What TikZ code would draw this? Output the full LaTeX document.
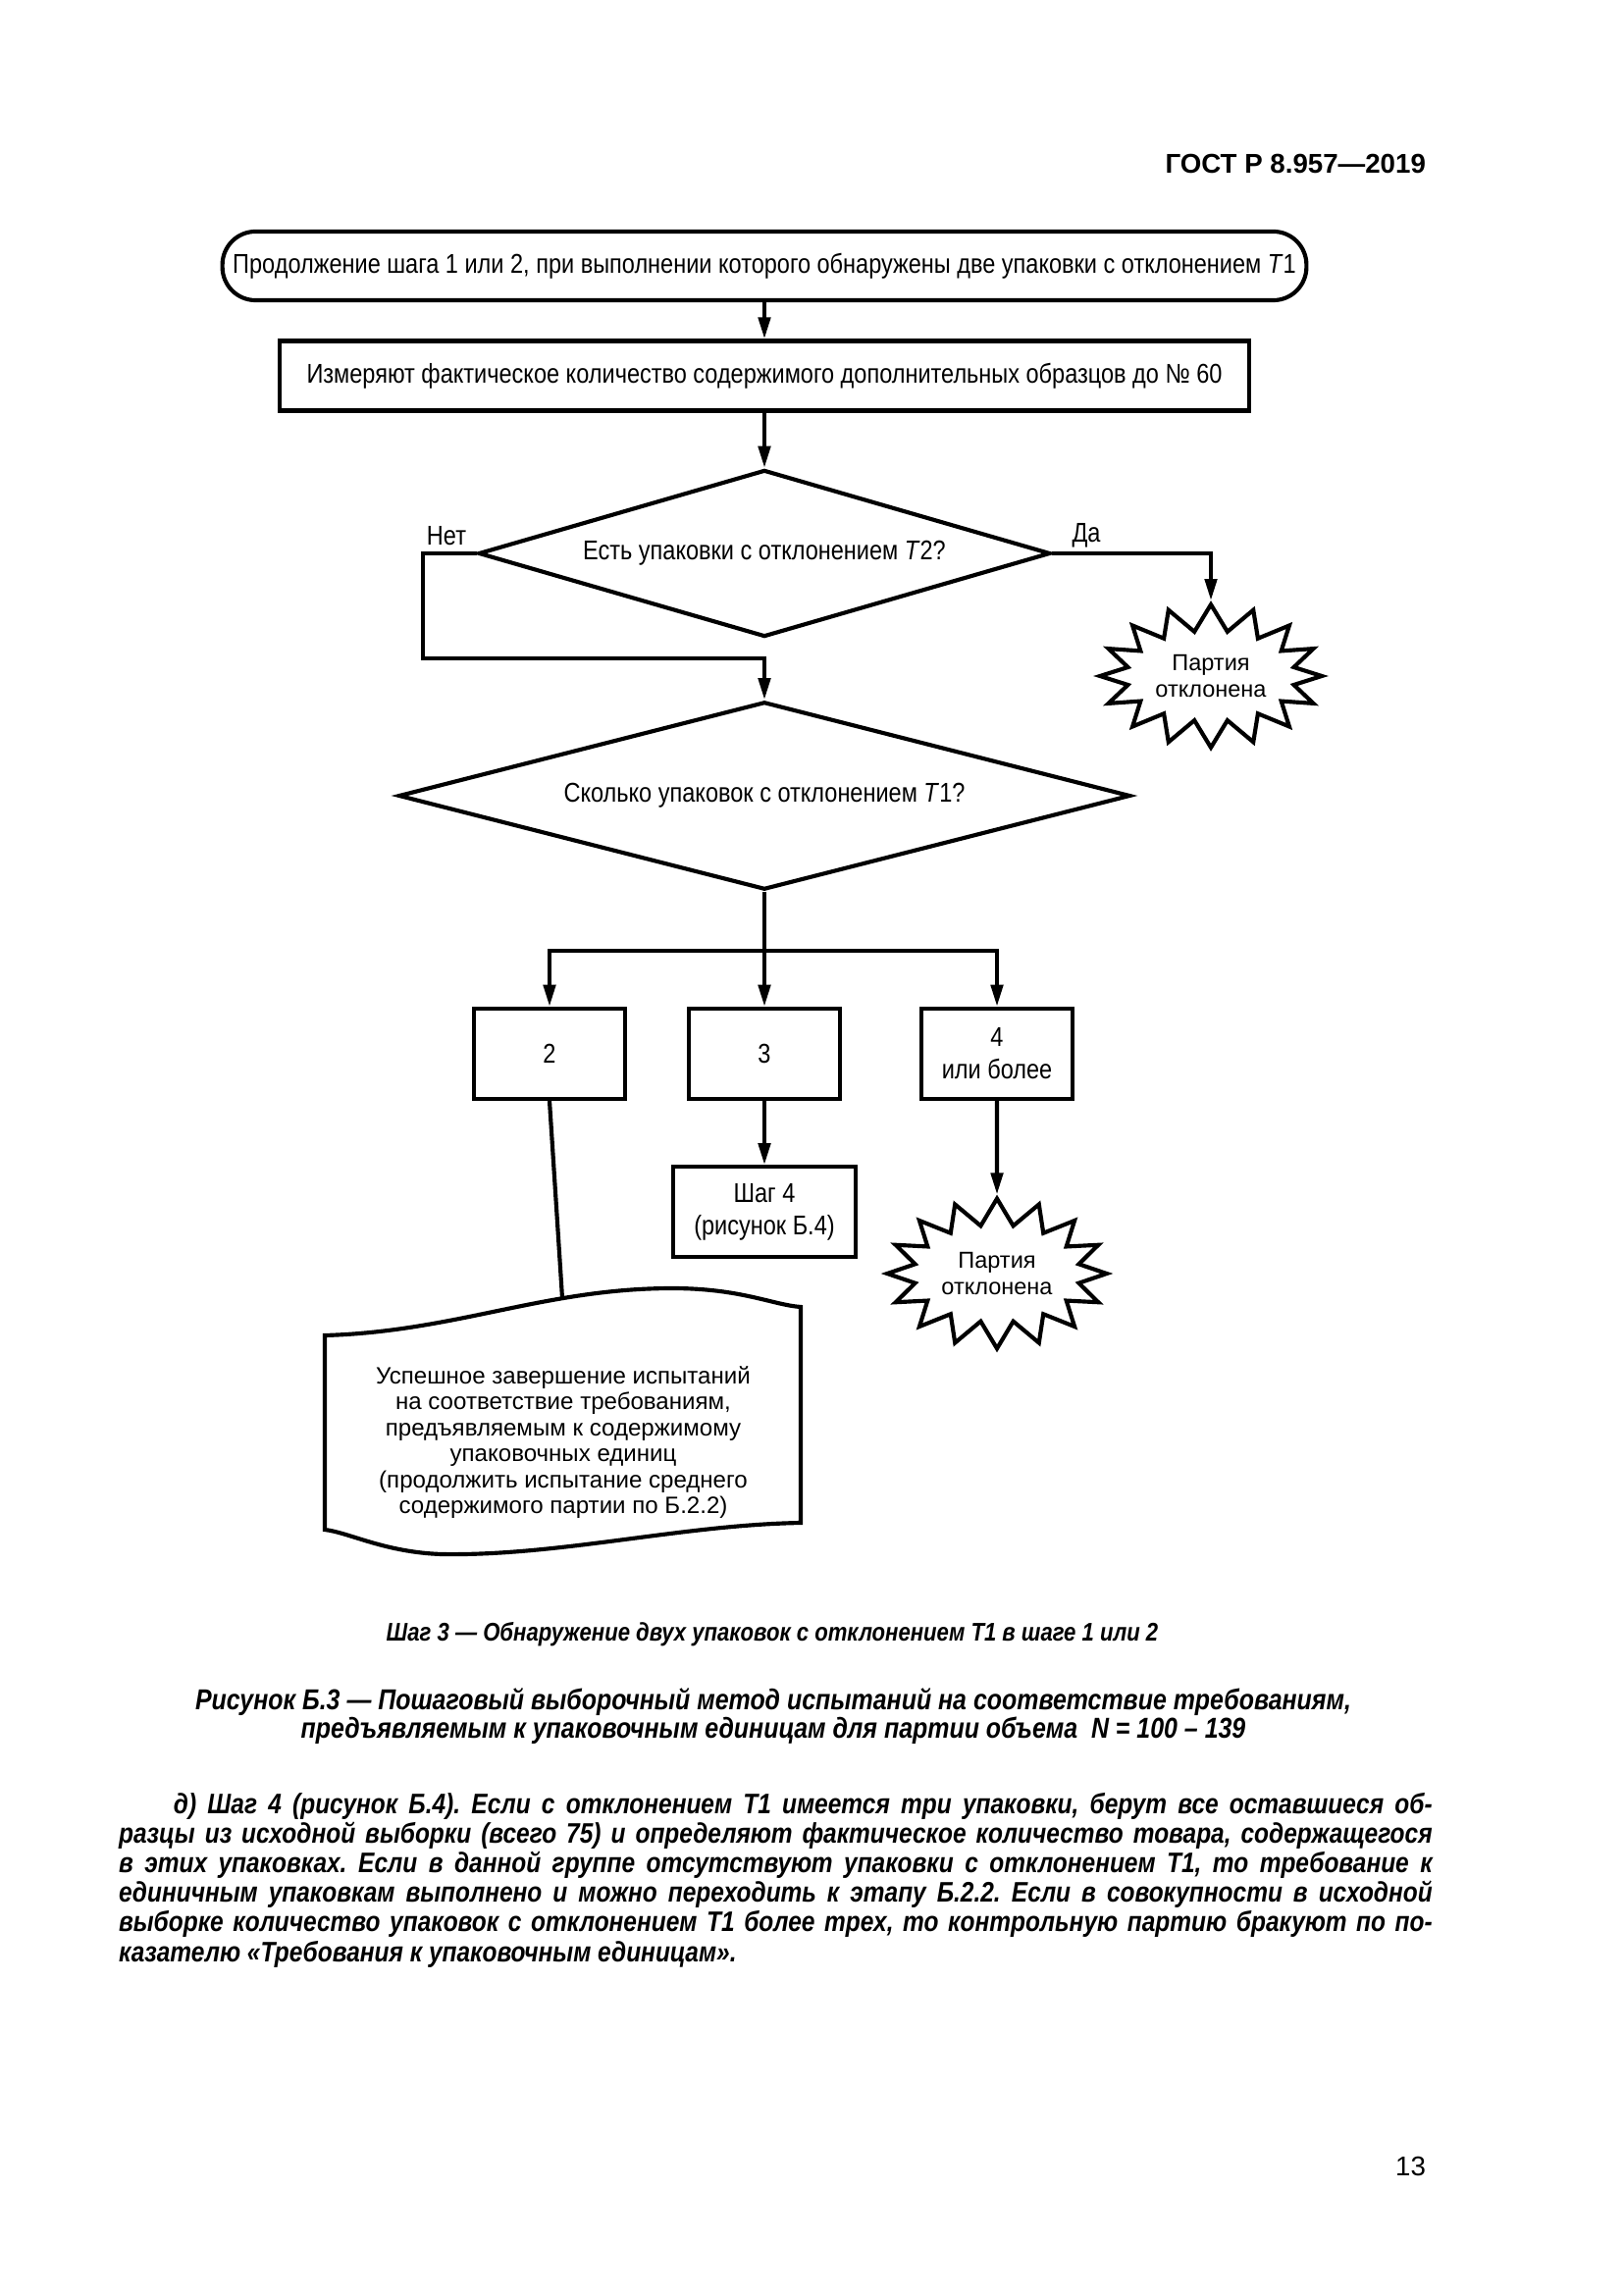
\documentclass[tikz,border=0pt]{standalone}
\usepackage{fontspec}
\setmainfont{Liberation Sans}
\newfontfamily\narrowfont{Liberation Sans}[FakeStretch=0.85]
\usetikzlibrary{arrows.meta,positioning,calc,shapes.geometric,shapes.symbols}
\frenchspacing

\begin{document}
\begin{tikzpicture}[x=0.127mm,y=-0.127mm,>={Triangle[length=8pt,width=4.4pt]},line width=1.5pt,
  every node/.style={inner sep=0pt},
  lbl/.style={font=\narrowfont\fontsize{10}{12}\selectfont,align=center},
  box/.style={lbl,draw,rectangle},
  ask/.style={lbl,draw,diamond},
  burst/.style={draw,starburst,starburst points=16,starburst point height=3.4mm,random starburst=0,align=center,font=\fontsize{8.5}{9.6}\selectfont},
  figtext/.style={font=\narrowfont\bfseries\itshape\fontsize{10.6}{10.5}\selectfont,align=center}]

% page
\fill[white] (0,0) rectangle (1654,2339);
\useasboundingbox (0,0) rectangle (1654,2339);

\node[anchor=east,font=\bfseries\fontsize{10}{12}\selectfont] (gost) at (1455,167) {ГОСТ Р 8.957—2019};

% Flowchart
\node[box,rounded corners=4.3mm,minimum width=140.3mm,minimum height=8.9mm] (start) at (779,271) {Продолжение шага 1 или 2, при выполнении которого обнаружены две упаковки с отклонением \textit{T}1};
\node[box,minimum width=125.5mm,minimum height=9mm] (measure) at (779,383) {Измеряют фактическое количество содержимого дополнительных образцов до № 60};
\node[ask,shape aspect=3.4,minimum width=74mm,minimum height=21.6mm] (askT2) at (779,564) {Есть упаковки с отклонением \textit{T}2?};
\node[burst,minimum width=28.7mm,minimum height=18.5mm] (rej1) at (1234,689) {Партия\\отклонена};
\node[ask,shape aspect=3.9,minimum width=94.7mm,minimum height=24.3mm] (howT1) at (779,811) {Сколько упаковок с отклонением \textit{T}1?};

\node[lbl] (no) at (455,546) {Нет};
\node[lbl] (yes) at (1107,546) {Да};

% Counts
\node[box,minimum width=19.6mm,minimum height=11.7mm] (cnt2) at (560,1074) {2};
\node[box,minimum width=19.6mm,minimum height=11.7mm] (cnt3) at (779,1074) {3};
\node[box,minimum width=19.6mm,minimum height=11.7mm] (cnt4) at (1016,1074) {4\\или более};
\node[box,minimum width=23.7mm,minimum height=11.6mm] (step4) at (779,1235) {Шаг 4\\(рисунок Б.4)};
\node[burst,minimum width=28.4mm,minimum height=19.4mm] (rej2) at (1016,1298) {Партия\\отклонена};

% Document shape
\node[align=center,font=\fontsize{8.7}{9.6}\selectfont] (finish) at (574,1470) {Успешное завершение испытаний\\на соответствие требованиям,\\предъявляемым к содержимому\\упаковочных единиц\\(продолжить испытание среднего\\содержимого партии по Б.2.2)};
\draw (331,1361) .. controls (465,1357) and (555,1313) .. (685,1313) .. controls (755,1313) and (788,1330) .. (816,1332) -- (816,1552) .. controls (695,1554) and (570,1586) .. (450,1584) .. controls (392,1582) and (356,1562) .. (331,1559) -- cycle;
\coordinate (docin) at (573,1323);

% Connectors
\draw[->] (start) -- (measure);
\draw[->] (measure) -- (askT2);
\draw[->] (askT2.west) -- ++(-55,0) |- ($(howT1.north)+(0,-42)$) -- (howT1.north);
\draw[->] (askT2.east) -| (rej1);
\draw (howT1.south) -- ++(0,60) coordinate (split);
\draw[->] (split) -| (cnt2);
\draw[->] (split) -- (cnt3);
\draw[->] (split) -| (cnt4);
\draw[->] (cnt3) -- (step4);
\draw[->] (cnt4) -- (rej2);
\draw (cnt2.south) -- (docin);

% Captions
\node[figtext,font=\narrowfont\bfseries\itshape\fontsize{9.4}{10}\selectfont] (stepcap) at (787,1666) {Шаг 3 — Обнаружение двух упаковок с отклонением Т1 в шаге 1 или 2};
\node[figtext] (figcap) at (788,1749) {Рисунок Б.3 — Пошаговый выборочный метод испытаний на соответствие требованиям,\\предъявляемым к упаковочным единицам для партии объема~ N = 100 – 139};

% Text
\node[anchor=north west,font=\narrowfont\bfseries\itshape\fontsize{10.4}{10.9}\selectfont,align=justify,text width=170mm] (para) at (119,1825) {%
\makebox[170mm][s]{\hspace*{7.1mm}д) Шаг 4 (рисунок Б.4). Если с отклонением Т1 имеется три упаковки, берут все оставшиеся об-}\\
\makebox[170mm][s]{разцы из исходной выборки (всего 75) и определяют фактическое количество товара, содержащегося}\\
\makebox[170mm][s]{в этих упаковках. Если в данной группе отсутствуют упаковки с отклонением Т1, то требование к}\\
\makebox[170mm][s]{единичным упаковкам выполнено и можно переходить к этапу Б.2.2. Если в совокупности в исходной}\\
\makebox[170mm][s]{выборке количество упаковок с отклонением Т1 более трех, то контрольную партию бракуют по по-}\\
казателю «Требования к упаковочным единицам».};

\node[anchor=east,font=\fontsize{10}{12}\selectfont] (pagenum) at (1455,2208) {13};

\end{tikzpicture}
\end{document}
